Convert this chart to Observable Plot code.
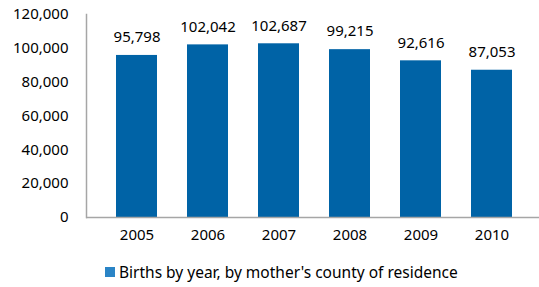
<!DOCTYPE html>
<html>
<head>
<meta charset="utf-8">
<script src="https://cdn.jsdelivr.net/npm/d3@7"></script>
<script src="https://cdn.jsdelivr.net/npm/@observablehq/plot@0.6"></script>
<style>
  html, body { margin: 0; padding: 0; background: #fff; }
  body { width: 539px; height: 287px; position: relative; overflow: hidden; font-family: "Noto Sans", sans-serif; }
  #legend { position: absolute; top: 263px; left: 105px; height: 18px; display: flex; align-items: center; font-size: 15.5px; color: #000; }
  #legend .sw { width: 10px; height: 10px; background: #2a84c6; margin-right: 4px; }
</style>
</head>
<body>
<div id="chart"></div>
<div id="legend"><div class="sw"></div><span id="legtext"></span></div>
<script>
const years = ["2005", "2006", "2007", "2008", "2009", "2010"];
const births = [95798, 102042, 102687, 99215, 92616, 87053];
const yTicks = [0, 20000, 40000, 60000, 80000, 100000, 120000];
const seriesName = "Births by year, by mother's county of residence";

const data = years.map((y, i) => ({year: y, births: births[i]}));
const fmt = d3.format(",");

const chart = Plot.plot({
  width: 539,
  height: 250,
  marginLeft: 86,
  marginRight: 0,
  marginTop: 14,
  marginBottom: 33,
  style: {fontFamily: "Noto Sans, sans-serif", fontSize: "15px", color: "#000", background: "#fff"},
  x: {domain: years, range: [86, 543], padding: 0.42},
  y: {domain: [0, 120000], range: [217, 14]},
  marks: [
    Plot.barY(data, {x: "year", y: "births", fill: "#0063a6"}),
    Plot.text(data, {x: "year", y: "births", text: d => fmt(d.births), dy: -18, fontSize: 15, fill: "#000"}),
    Plot.ruleY([0], {stroke: "#a6a6a6", strokeWidth: 1.5}),
    Plot.frame({anchor: "left", stroke: "#a6a6a6", strokeWidth: 1.5}),
    Plot.axisX({tickSize: 0, tickPadding: 12, fontSize: 15, label: null}),
    Plot.axisY({ticks: yTicks, tickSize: 0, tickPadding: 18, tickFormat: d => fmt(d), fontSize: 15, label: null})
  ]
});
document.getElementById("chart").appendChild(chart);
document.getElementById("legtext").textContent = seriesName;
</script>
</body>
</html>
